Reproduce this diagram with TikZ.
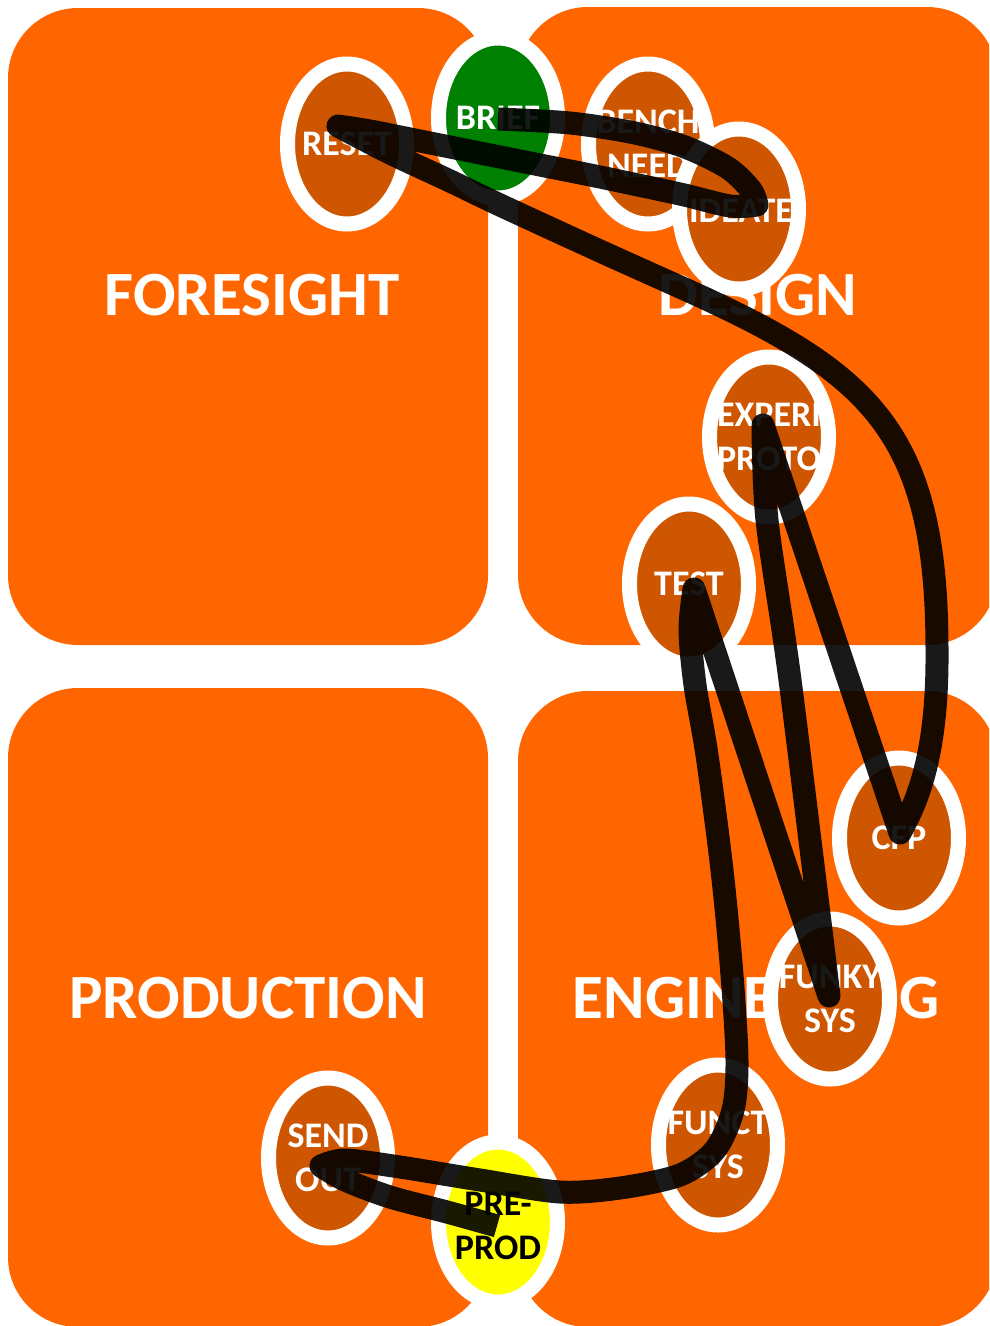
\documentclass[tikz,border=0pt]{standalone}
\usepackage{fontspec}
\setmainfont{Carlito}
\definecolor{boxorange}{HTML}{FF6600}
\definecolor{ellfill}{HTML}{CF5600}
\definecolor{briefgreen}{HTML}{008000}
\definecolor{preyellow}{HTML}{FFFF00}
\tikzset{
  box/.style={fill=boxorange, rounded corners=70pt},
  ring/.style={fill=ellfill, draw=white, line width=15pt},
  small/.style={text=white, font=\fontsize{36pt}{44pt}\selectfont\bfseries, align=center, inner sep=0pt},
  big/.style={text=white, font=\fontsize{63pt}{70pt}\selectfont\bfseries, inner sep=0pt},
  scribble/.style={draw=black, draw opacity=0.9, line width=23pt, line join=round, line cap=butt},
}
\begin{document}
\begin{tikzpicture}[x=1pt,y=-1pt]
\useasboundingbox (0,0) rectangle (989,1326);
\fill[white] (0,0) rectangle (989,1326);
\clip (0,0) rectangle (989,1326);
% quadrants
\path[box] (8,8) rectangle (488,645);
\path[box] (518,7) rectangle (997,645);
\path[box] (8,688) rectangle (488,1327);
\path[box] (518,691) rectangle (997,1327);
% quadrant titles
\node[big] (foresight) at (252,295) {FORESIGHT};
\node[big] (design) at (758,295) {DESIGN};
\node[big] (production) at (248,998) {PRODUCTION};
\node[big] (engineering) at (756,998) {ENGINEERING};
% stages
\coordinate (reset) at (347,144);
\coordinate (brief) at (498,118);
\coordinate (bench) at (648,144);
\coordinate (ideate) at (739,209);
\coordinate (experi) at (769,437);
\coordinate (test) at (689,584);
\coordinate (cfp) at (899,838);
\coordinate (funky) at (830,999);
\coordinate (funct) at (718,1145);
\coordinate (send) at (328,1158);
\coordinate (preprod) at (498,1222);
\path[ring] (reset) ellipse [x radius=59.5pt, y radius=80pt];
\node[small] (resetlbl) at (reset) {RESET};
\path[ring, fill=briefgreen] (brief) ellipse [x radius=59.5pt, y radius=80pt];
\node[small] (brieflbl) at (brief) {BRIEF};
\path[ring] (bench) ellipse [x radius=59.5pt, y radius=80pt];
\node[small] (benchlbl) at (bench) {BENCH\\NEED};
\path[ring] (ideate) ellipse [x radius=59.5pt, y radius=80pt];
\node[small] (ideatelbl) at ([xshift=2pt,yshift=-2pt]ideate) {IDEATE};
\path[ring] (experi) ellipse [x radius=59.5pt, y radius=80pt];
\node[small] (experilbl) at (experi) {EXPERI\\PROTO};
\path[ring] (test) ellipse [x radius=59.5pt, y radius=80pt];
\node[small] (testlbl) at (test) {TEST};
\path[ring] (cfp) ellipse [x radius=59.5pt, y radius=80pt];
\node[small] (cfplbl) at (cfp) {CFP};
\path[ring] (funky) ellipse [x radius=59.5pt, y radius=80pt];
\node[small] (funkylbl) at (funky) {FUNKY\\SYS};
\path[ring] (funct) ellipse [x radius=59.5pt, y radius=80pt];
\node[small] (functlbl) at (funct) {FUNCT\\SYS};
\path[ring] (send) ellipse [x radius=59.5pt, y radius=80pt];
\node[small] (sendlbl) at (send) {SEND\\OUT};
\path[ring, fill=preyellow] (preprod) ellipse [x radius=59.5pt, y radius=80pt];
\node[small, text=black] (preprodlbl) at ([yshift=-4pt]preprod) {PRE-\\PROD};
% scribble path
\draw[scribble]
  plot[smooth] coordinates {(498,119) (570,123) (635,133) (685,147) (728,168) (751,190) (757,205)}
  -- plot[smooth] coordinates {(757,205) (730,206) (680,194) (600,177) (530,163) (470,151) (420,141) (370,131) (338,126)}
  -- plot[smooth] coordinates {(338,126) (390,153) (450,181) (500,205) (600,251) (680,287)}
  .. controls (870,372) and (937,430) .. (937,650)
  .. controls (938,760) and (915,805) .. (900,833)
  -- (763,425)
  -- plot[smooth] coordinates {(763,425) (767,520) (790,680) (829,996)}
  -- (694,589)
  -- plot[smooth] coordinates {(694,589) (690,630) (695,685) (707,755) (722,870) (732,975) (737,1060) (733,1110) (715,1150) (680,1175) (620,1188) (560,1192) (480,1180) (400,1167) (345,1160) (321,1166)}
  -- plot[smooth] coordinates {(321,1166) (345,1180) (390,1197) (447,1212) (497,1226)};
\end{tikzpicture}
\end{document}
